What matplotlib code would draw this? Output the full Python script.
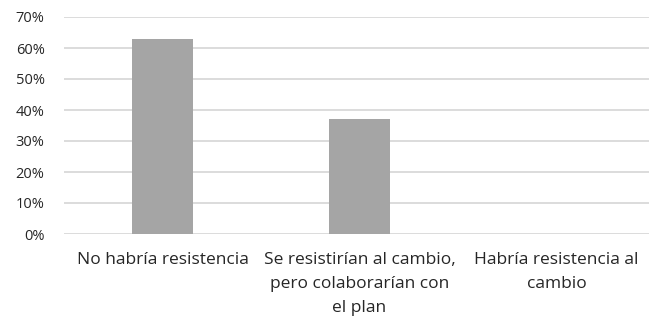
import matplotlib

matplotlib.use("Agg")
import matplotlib.pyplot as plt
from matplotlib.ticker import PercentFormatter

# Values
categories = [
    "No habría resistencia",
    "Se resistirían al cambio,\npero colaborarían con\nel plan",
    "Habría resistencia al\ncambio",
]
shares = [0.63, 0.37, 0.0]
y_ticks = [0.0, 0.1, 0.2, 0.3, 0.4, 0.5, 0.6, 0.7]

text_color = "#262626"
plt.rcParams["font.family"] = ["Open Sans", "DejaVu Sans"]

fig = plt.figure(figsize=(6.49, 3.18), dpi=100)
ax = fig.add_axes([64 / 649, 1 - 234 / 318, 591 / 649, 217 / 318])

x = range(len(categories))
ax.bar(x, shares, width=0.31, color="#a5a5a5", zorder=3)

ax.set_xlim(-0.5, len(categories) - 0.5)
ax.set_ylim(0, 0.7)
ax.set_yticks(y_ticks)
ax.yaxis.set_major_formatter(PercentFormatter(1.0, decimals=0))
ax.set_xticks(list(x))
ax.set_xticklabels(categories, linespacing=1.65)

ax.grid(axis="y", color="#d9d9d9", linewidth=1.3, zorder=0)
ax.tick_params(axis="both", length=0, colors=text_color, labelsize=12.5)
ax.tick_params(axis="x", pad=13)
ax.tick_params(axis="y", pad=14)
for label in ax.get_yticklabels():
    label.set_fontsize(10.5)
for spine in ax.spines.values():
    spine.set_visible(False)

fig.savefig("out.png", dpi=100, facecolor="white")
